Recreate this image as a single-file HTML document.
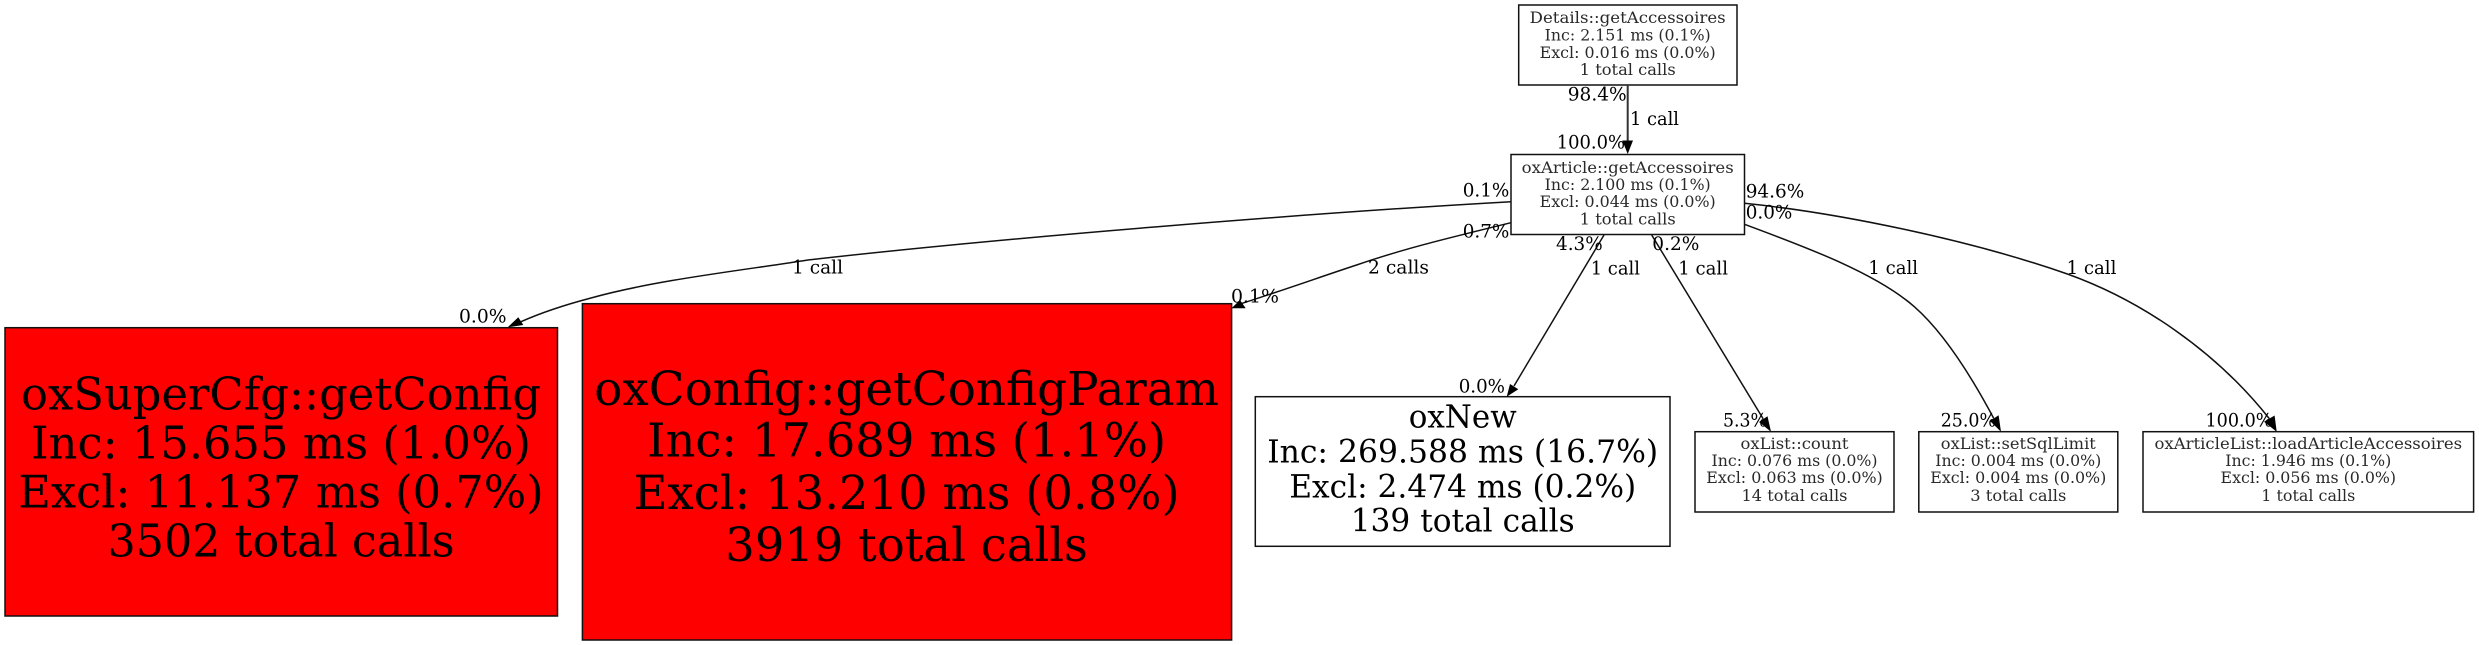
<!DOCTYPE html>
<html>
<head>
<meta charset="utf-8">
<style>
html,body{margin:0;padding:0;background:#fff;width:2479px;height:645px;overflow:hidden}
svg{display:block}
text{font-family:"DejaVu Serif","Liberation Serif",serif;fill:#000;text-anchor:middle}
.e{fill:none;stroke:#111;stroke-width:1.5}
.n{stroke:#111;stroke-width:1.5}
.l{font-size:18.5px;text-anchor:start}
.s{font-size:15.7px;fill:#2a2a2a}
.m{font-size:31.4px}
.b{font-size:45px}
.c{font-size:46.5px}
</style>
</head>
<body>
<svg width="2479" height="645" viewBox="0 0 2479 645" xmlns="http://www.w3.org/2000/svg">
<rect width="2479" height="645" fill="#fff"/>

<!-- nodes -->
<rect class="n" x="1518.7" y="5" width="218.3" height="80" fill="#fff"/>
<rect class="n" x="1511" y="154.5" width="233.5" height="80" fill="#fff"/>
<rect class="n" x="5" y="327.7" width="552.5" height="288.3" fill="#f00"/>
<rect class="n" x="582.4" y="303.7" width="649.2" height="336.3" fill="#f00"/>
<rect class="n" x="1255.3" y="396.7" width="414.7" height="149.6" fill="#fff"/>
<rect class="n" x="1695" y="431.7" width="199" height="80.3" fill="#fff"/>
<rect class="n" x="1918.8" y="431.7" width="199" height="80.3" fill="#fff"/>
<rect class="n" x="2143" y="431.7" width="330.6" height="80.3" fill="#fff"/>

<!-- edges -->
<path class="e" style="stroke-width:2;stroke:#333" d="M1627.7,85 L1627.7,141"/>
<polygon points="1627.7,154 1622.3,140.5 1633,140.5" fill="#000"/>

<path class="e" d="M1511,201.7 C1310,213 1000,238 808,260 C745,270 655,280 591,298 C572,303 545,311 521,321.7"/>
<polygon points="507.7,327.3 518.3,317.3 523.3,325" fill="#000"/>

<path class="e" d="M1511,222.7 C1440,240 1400,250 1356.6,265 C1320,277 1290,288 1240,304"/>
<polygon points="1231.5,308.3 1245.7,308.3 1240,300" fill="#000"/>

<path class="e" d="M1604,235 L1514,386"/>
<polygon points="1506.7,396.7 1510,384 1518.3,389.3" fill="#000"/>

<path class="e" d="M1651.7,235 L1763.2,418.9"/>
<polygon points="1771,431.7 1759,422 1767.5,416.3" fill="#000"/>

<path class="e" d="M1744.5,224.3 C1800,245 1875,272 1914.3,306.7 C1942,331 1968,370 1993.8,418.5"/>
<polygon points="2001,431.7 1990,421 1998.6,415.2" fill="#000"/>

<path class="e" d="M1744.5,203.3 C1840,213 1970,240 2067.4,274 C2140,300 2215,350 2269.3,418.6"/>
<polygon points="2276.7,431.7 2274.6,415.5 2264,421.8" fill="#000"/>

<!-- node text -->
<text class="s" x="1627.7" y="23" textLength="196" lengthAdjust="spacingAndGlyphs">Details::getAccessoires</text>
<text class="s" x="1627.7" y="40.7" textLength="166" lengthAdjust="spacingAndGlyphs">Inc: 2.151 ms (0.1%)</text>
<text class="s" x="1627.7" y="58" textLength="176" lengthAdjust="spacingAndGlyphs">Excl: 0.016 ms (0.0%)</text>
<text class="s" x="1627.7" y="75" textLength="96" lengthAdjust="spacingAndGlyphs">1 total calls</text>

<text class="s" x="1627.7" y="173" textLength="212" lengthAdjust="spacingAndGlyphs">oxArticle::getAccessoires</text>
<text class="s" x="1627.7" y="190" textLength="166" lengthAdjust="spacingAndGlyphs">Inc: 2.100 ms (0.1%)</text>
<text class="s" x="1627.7" y="207" textLength="176" lengthAdjust="spacingAndGlyphs">Excl: 0.044 ms (0.0%)</text>
<text class="s" x="1627.7" y="224.7" textLength="96" lengthAdjust="spacingAndGlyphs">1 total calls</text>

<text class="b" x="281" y="409.3" textLength="520" lengthAdjust="spacingAndGlyphs">oxSuperCfg::getConfig</text>
<text class="b" x="281" y="458.7" textLength="500" lengthAdjust="spacingAndGlyphs">Inc: 15.655 ms (1.0%)</text>
<text class="b" x="281" y="507.7" textLength="525.5" lengthAdjust="spacingAndGlyphs">Excl: 11.137 ms (0.7%)</text>
<text class="b" x="281" y="556.7" textLength="347" lengthAdjust="spacingAndGlyphs">3502 total calls</text>

<text class="c" x="906.6" y="405" textLength="624.7" lengthAdjust="spacingAndGlyphs">oxConfig::getConfigParam</text>
<text class="c" x="906.6" y="456.7" textLength="519" lengthAdjust="spacingAndGlyphs">Inc: 17.689 ms (1.1%)</text>
<text class="c" x="906.6" y="509" textLength="546" lengthAdjust="spacingAndGlyphs">Excl: 13.210 ms (0.8%)</text>
<text class="c" x="906.6" y="561" textLength="362.6" lengthAdjust="spacingAndGlyphs">3919 total calls</text>

<text class="m" x="1462.7" y="427.7" textLength="108" lengthAdjust="spacingAndGlyphs">oxNew</text>
<text class="m" x="1462.7" y="462.3" textLength="391" lengthAdjust="spacingAndGlyphs">Inc: 269.588 ms (16.7%)</text>
<text class="m" x="1462.7" y="497.3" textLength="347" lengthAdjust="spacingAndGlyphs">Excl: 2.474 ms (0.2%)</text>
<text class="m" x="1462.7" y="531.7" textLength="224" lengthAdjust="spacingAndGlyphs">139 total calls</text>

<text class="s" x="1794.5" y="449" textLength="108" lengthAdjust="spacingAndGlyphs">oxList::count</text>
<text class="s" x="1794.5" y="466" textLength="166" lengthAdjust="spacingAndGlyphs">Inc: 0.076 ms (0.0%)</text>
<text class="s" x="1794.5" y="483" textLength="176.5" lengthAdjust="spacingAndGlyphs">Excl: 0.063 ms (0.0%)</text>
<text class="s" x="1794.5" y="501" textLength="106" lengthAdjust="spacingAndGlyphs">14 total calls</text>

<text class="s" x="2018.3" y="449" textLength="155" lengthAdjust="spacingAndGlyphs">oxList::setSqlLimit</text>
<text class="s" x="2018.3" y="466" textLength="166" lengthAdjust="spacingAndGlyphs">Inc: 0.004 ms (0.0%)</text>
<text class="s" x="2018.3" y="483" textLength="176" lengthAdjust="spacingAndGlyphs">Excl: 0.004 ms (0.0%)</text>
<text class="s" x="2018.3" y="501" textLength="96" lengthAdjust="spacingAndGlyphs">3 total calls</text>

<text class="s" x="2308.3" y="449" textLength="307.6" lengthAdjust="spacingAndGlyphs">oxArticleList::loadArticleAccessoires</text>
<text class="s" x="2308.3" y="466" textLength="166" lengthAdjust="spacingAndGlyphs">Inc: 1.946 ms (0.1%)</text>
<text class="s" x="2308.3" y="483" textLength="175.5" lengthAdjust="spacingAndGlyphs">Excl: 0.056 ms (0.0%)</text>
<text class="s" x="2308.3" y="501" textLength="94" lengthAdjust="spacingAndGlyphs">1 total calls</text>

<!-- edge labels -->
<text class="l" x="1567.7" y="100.7" textLength="59" lengthAdjust="spacingAndGlyphs">98.4%</text>
<text class="l" x="1630" y="125" textLength="49" lengthAdjust="spacingAndGlyphs">1 call</text>
<text class="l" x="1556.7" y="148.3" textLength="68.3" lengthAdjust="spacingAndGlyphs">100.0%</text>
<text class="l" x="1462.7" y="196.7" textLength="46.6" lengthAdjust="spacingAndGlyphs">0.1%</text>
<text class="l" x="1745.7" y="197.7" textLength="58.6" lengthAdjust="spacingAndGlyphs">94.6%</text>
<text class="l" x="1745.7" y="218.7" textLength="46.6" lengthAdjust="spacingAndGlyphs">0.0%</text>
<text class="l" x="1462.7" y="237.3" textLength="46.6" lengthAdjust="spacingAndGlyphs">0.7%</text>
<text class="l" x="1556" y="250" textLength="46.7" lengthAdjust="spacingAndGlyphs">4.3%</text>
<text class="l" x="1652.3" y="250" textLength="47" lengthAdjust="spacingAndGlyphs">0.2%</text>

<text class="l" x="792" y="273.3" textLength="51" lengthAdjust="spacingAndGlyphs">1 call</text>
<text class="l" x="1368" y="273.3" textLength="61" lengthAdjust="spacingAndGlyphs">2 calls</text>
<text class="l" x="1590.7" y="274.3" textLength="49.3" lengthAdjust="spacingAndGlyphs">1 call</text>
<text class="l" x="1678.3" y="274.3" textLength="49.7" lengthAdjust="spacingAndGlyphs">1 call</text>
<text class="l" x="1868.4" y="274" textLength="49.6" lengthAdjust="spacingAndGlyphs">1 call</text>
<text class="l" x="2066.6" y="274" textLength="49.8" lengthAdjust="spacingAndGlyphs">1 call</text>

<text class="l" x="459" y="322.7" textLength="47.5" lengthAdjust="spacingAndGlyphs">0.0%</text>
<text class="l" x="1231" y="302.7" textLength="48" lengthAdjust="spacingAndGlyphs">0.1%</text>
<text class="l" x="1458.7" y="392.3" textLength="46.3" lengthAdjust="spacingAndGlyphs">0.0%</text>
<text class="l" x="1723" y="426.7" textLength="44" lengthAdjust="spacingAndGlyphs">5.3%</text>
<text class="l" x="1940.7" y="426.7" textLength="55.3" lengthAdjust="spacingAndGlyphs">25.0%</text>
<text class="l" x="2205.5" y="426.7" textLength="67" lengthAdjust="spacingAndGlyphs">100.0%</text>
</svg>
</body>
</html>
